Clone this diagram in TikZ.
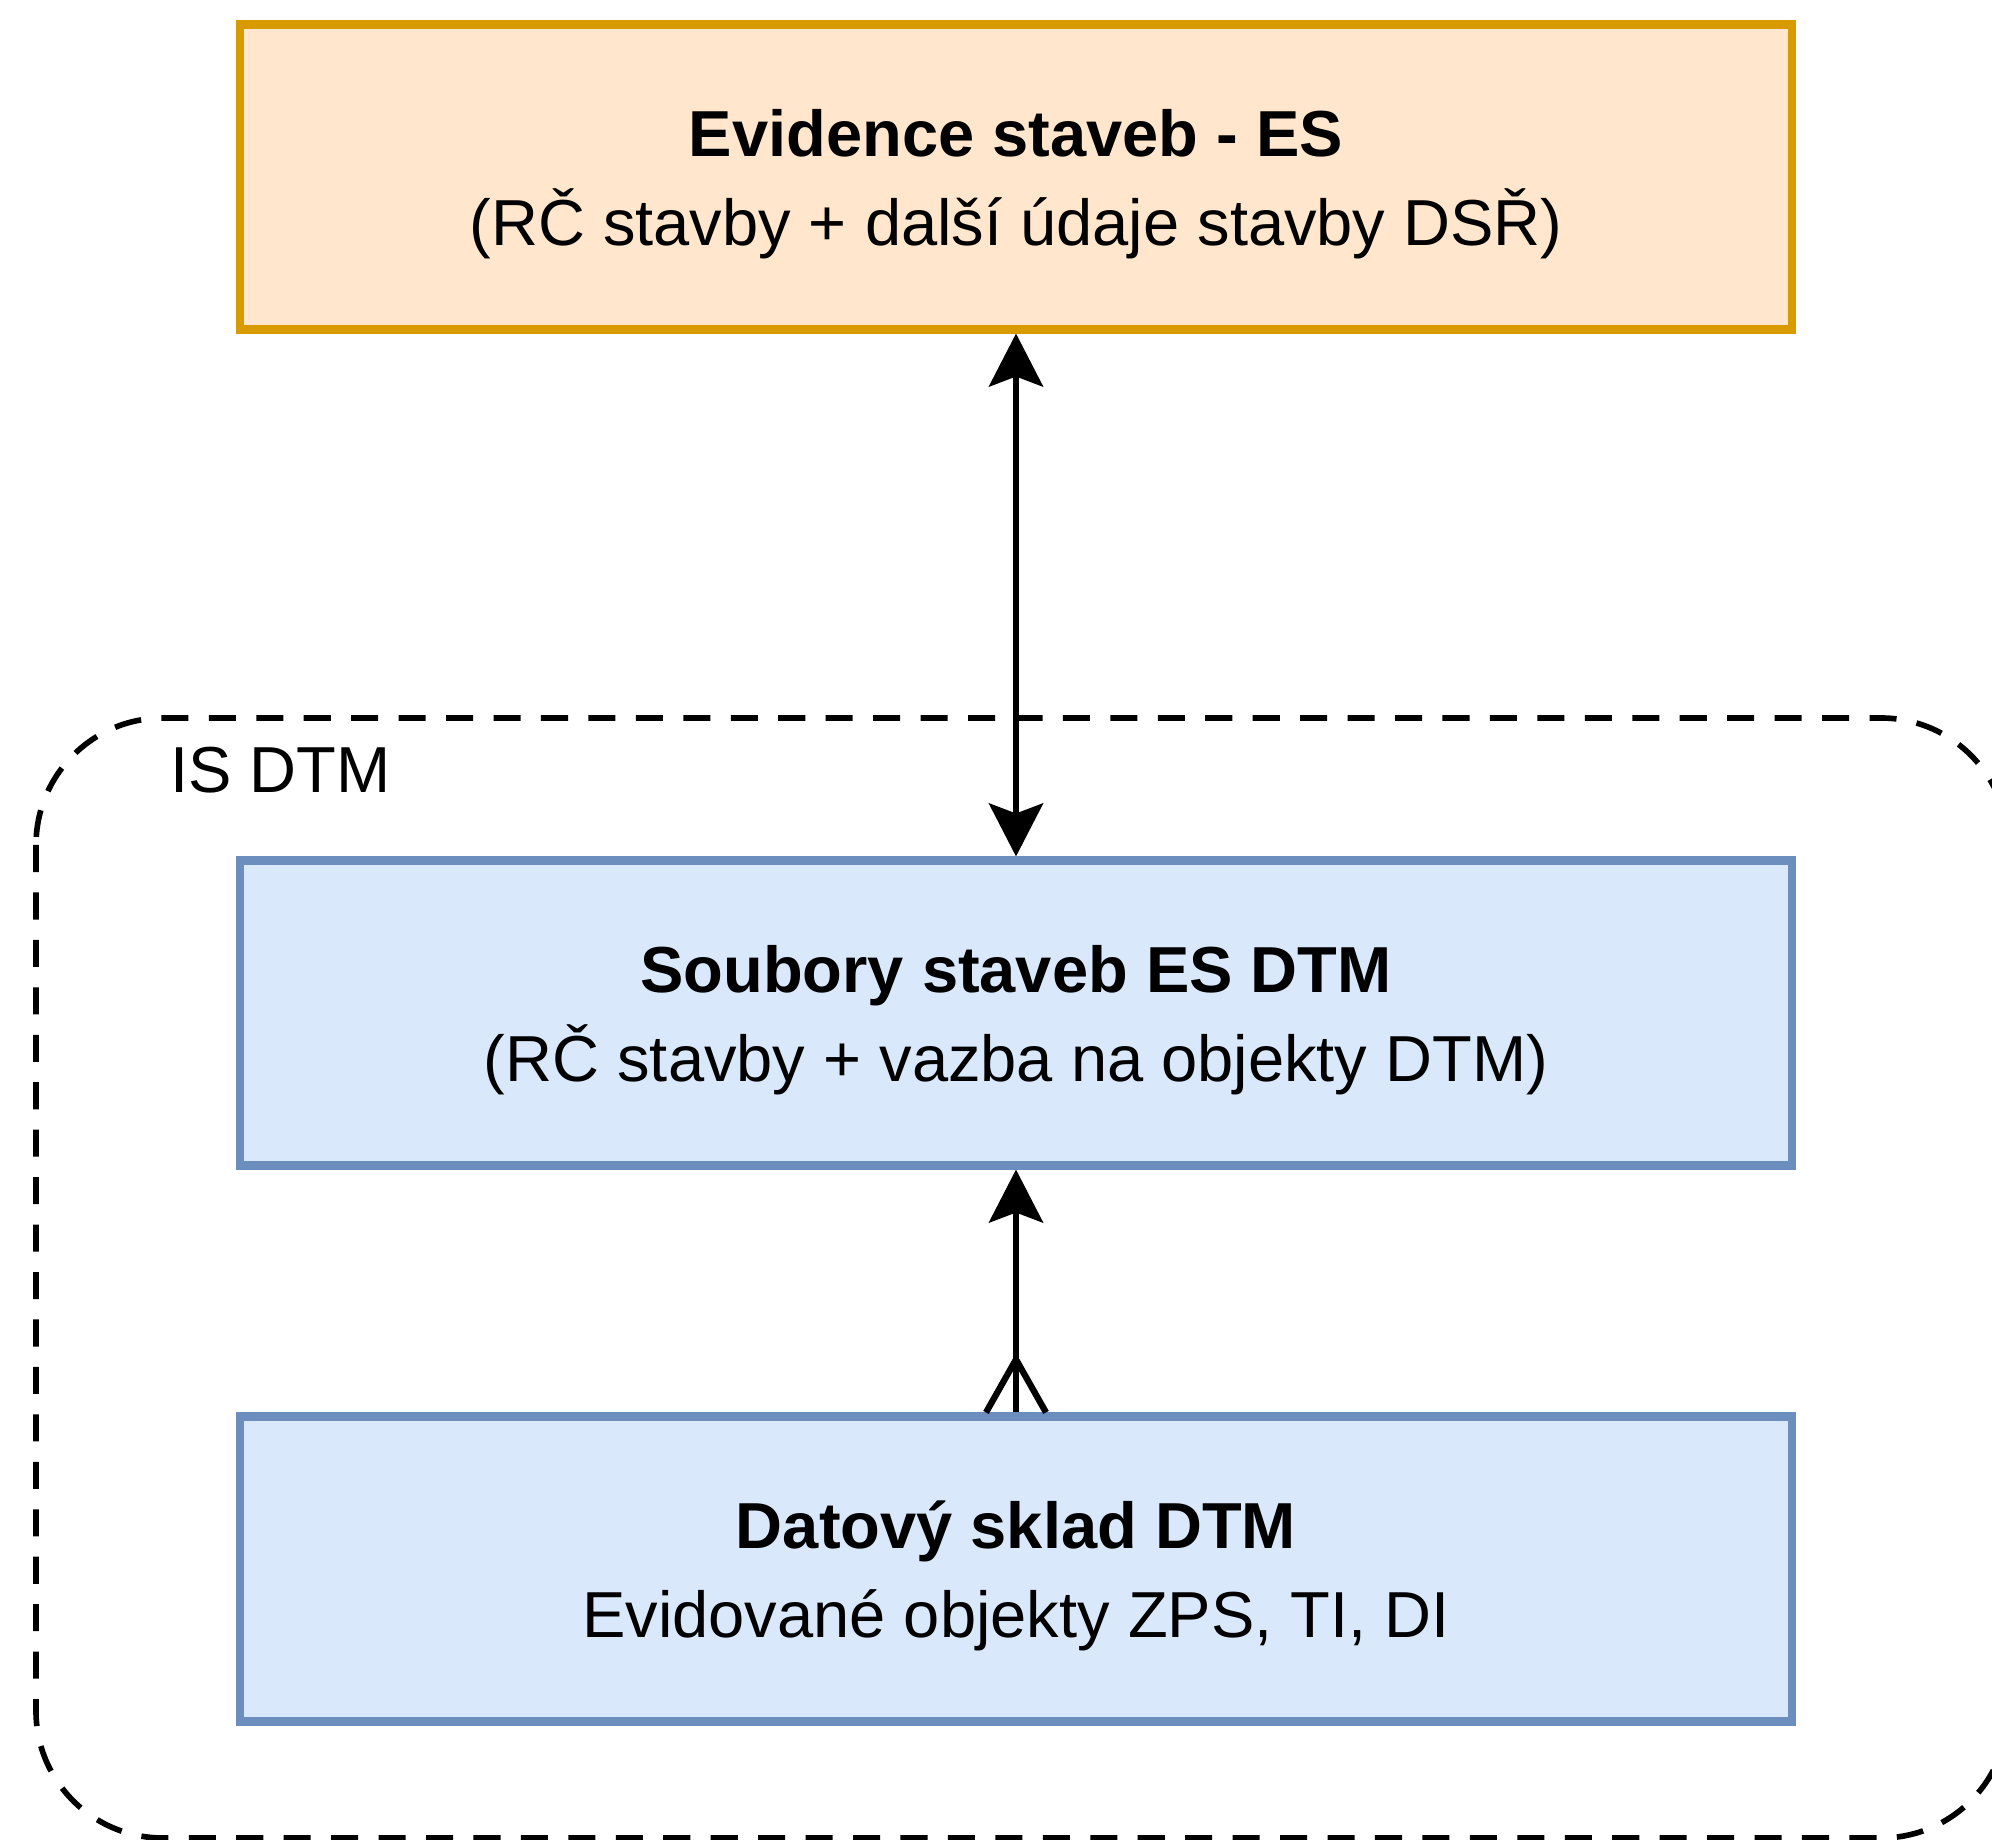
\documentclass[tikz,border=0pt]{standalone}
\usepackage{fontspec}
\setmainfont{Liberation Sans}
\usetikzlibrary{arrows.meta,positioning}
\definecolor{esfill}{HTML}{FFE6CC}
\definecolor{esdraw}{HTML}{D79B00}
\definecolor{dtmfill}{HTML}{DAE8FC}
\definecolor{dtmdraw}{HTML}{6C8EBF}
\tikzset{
  kasten/.style={rectangle,line width=2.3pt,minimum width=15.52cm,minimum height=3.05cm,
    inner sep=0pt,align=center,font=\fontsize{18.5}{25.5}\selectfont,
    text height=39.2pt,text depth=0pt},
  verbindung/.style={line width=1.8pt},
  spitze/.tip={Stealth[length=0.53cm,width=0.54cm,inset=0.1cm]},
  rahmen/.style={line width=1.6pt,dash pattern=on 7.7pt off 5.8pt,rounded corners=1.27cm}
}
\begin{document}
\begin{tikzpicture}
  % Rand
  \useasboundingbox (0,0) rectangle (19.92,-18.40);
  % Rahmen IS DTM
  \draw[rahmen] (0.36,-7.18) rectangle (20.08,-18.38);
  \node[anchor=west,font=\fontsize{18.5}{22}\selectfont] (isdtm) at (1.58,-7.70) {IS DTM};
  % Kaesten
  \node[kasten,fill=esfill,draw=esdraw] (es) at (10.16,-1.77)
    {\textbf{Evidence staveb - ES}\\(RČ stavby + další údaje stavby DSŘ)};
  \node[kasten,fill=dtmfill,draw=dtmdraw] (soub) at (10.16,-10.13)
    {\textbf{Soubory staveb ES DTM}\\(RČ stavby + vazba na objekty DTM)};
  \node[kasten,fill=dtmfill,draw=dtmdraw] (dat) at (10.16,-15.69)
    {\textbf{Datový sklad DTM}\\Evidované objekty ZPS, TI, DI};
  % Pfeile
  \draw[verbindung,spitze-spitze] (es.south) -- (soub.north);
  \draw[verbindung,-spitze] (dat.north) -- (soub.south);
  % Kraehenfuss
  \coordinate (fuss) at ([yshift=0.53cm]dat.north);
  \draw[verbindung] ([xshift=-0.3cm]dat.north) -- (fuss) -- ([xshift=0.3cm]dat.north);
\end{tikzpicture}
\end{document}
